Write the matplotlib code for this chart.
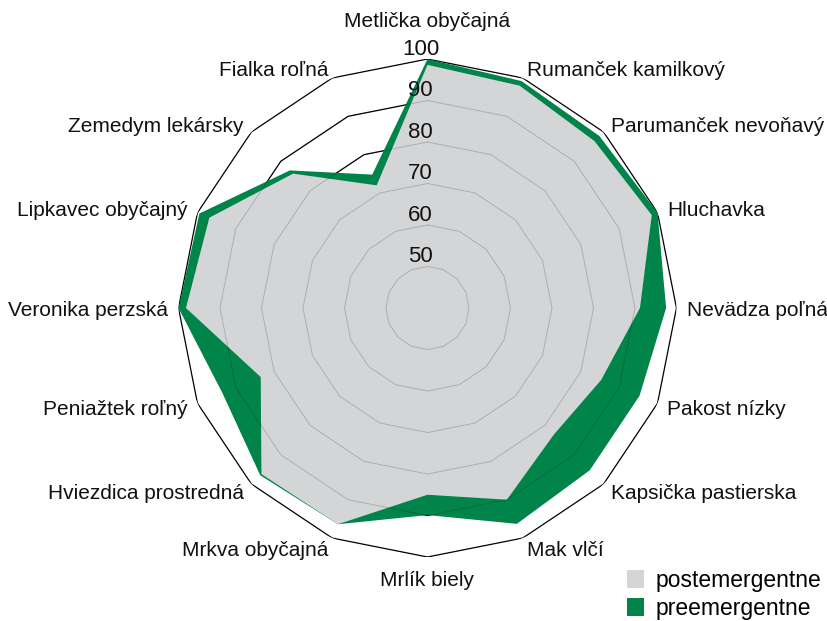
import numpy as np
import matplotlib
matplotlib.use("Agg")
import matplotlib.pyplot as plt
from matplotlib.patches import Patch
import matplotlib.transforms as mtransforms

plt.rcParams['font.family'] = ['Liberation Sans', 'DejaVu Sans']

categories = [
    "Metlička obyčajná", "Rumanček kamilkový", "Parumanček nevoňavý", "Hluchavka",
    "Nevädza poľná", "Pakost nízky", "Kapsička pastierska", "Mak vlčí",
    "Mrlík biely", "Mrkva obyčajná", "Hviezdica prostredná", "Peniažtek roľný",
    "Veronika perzská", "Lipkavec obyčajný", "Zemedym lekársky", "Fialka roľná",
]
preemergentne = [100, 99.2, 98.6, 100, 97.5, 95.3, 95.3, 96.3,
                 89.9, 96.4, 97.0, 93.5, 100, 99.5, 86.9, 74.8]
postemergentne = [98.6, 98.0, 96.9, 98.5, 91.2, 85.3, 83.1, 90.0,
                  85.0, 96.4, 96.6, 83.5, 98.2, 96.9, 85.8, 72.0]
grid_levels = [50, 60, 70, 80, 90, 100]
series_names = ["postemergentne", "preemergentne"]

GREEN = "#00844a"
GRAY = "#d4d5d7"
TXT = "#111111"

n = len(categories)
theta = np.linspace(0, 2 * np.pi, n, endpoint=False)
theta_c = np.append(theta, theta[0])

fig = plt.figure(figsize=(8.28, 6.21), dpi=100)
ax = fig.add_axes([0.2156, 0.103, 0.6014, 0.802], projection='polar')
ax.set_theta_zero_location('N')
ax.set_theta_direction(-1)
ax.set_ylim(40, 100)
ax.grid(False)
ax.spines['polar'].set_visible(False)
ax.set_xticks([])
ax.set_yticks([])
ax.patch.set_alpha(0)

# polygon grid (underneath)
for lv in grid_levels:
    ax.plot(theta_c, [lv] * (n + 1), color='black', lw=0.9, zorder=1)

pre_c = preemergentne + preemergentne[:1]
post_c = postemergentne + postemergentne[:1]
ax.fill(theta_c, pre_c, color=GREEN, lw=0, zorder=2)
ax.fill(theta_c, post_c, color=GRAY, lw=0, zorder=3)

# faint grid over fills
for lv in grid_levels[:-1]:
    ax.plot(theta_c, [lv] * (n + 1), color='black', lw=0.7, alpha=0.18, zorder=4)

# radial tick labels
off = mtransforms.offset_copy(ax.transData, fig=fig, x=-7, y=0, units='dots')
for lv in grid_levels:
    ax.text(0, lv + 2.4, str(lv), transform=off, ha='center', va='center',
            fontsize=16, color=TXT, zorder=6)

# category labels
lab_tr = mtransforms.offset_copy(ax.transData, fig=fig, x=0, y=-2, units='dots')
for ang, lab in zip(theta, categories):
    deg = np.degrees(ang)
    if np.isclose(deg, 0):
        ax.text(ang, 107.7, lab, ha='center', va='baseline', fontsize=15, color=TXT)
    elif np.isclose(deg, 180):
        ax.text(ang, 103.4, lab, ha='center', va='top', fontsize=15, color=TXT)
    elif deg < 180:
        ax.text(ang, 102.6, lab, ha='left', va='center', fontsize=15, color=TXT,
                transform=lab_tr)
    else:
        ax.text(ang, 102.6, lab, ha='right', va='center', fontsize=15, color=TXT,
                transform=lab_tr)

handles = [Patch(facecolor=GRAY, edgecolor='none'), Patch(facecolor=GREEN, edgecolor='none')]
fig.legend(handles, series_names, loc='upper left', bbox_to_anchor=(627 / 828, 1 - 569 / 621),
           frameon=False, fontsize=16.5, handlelength=0.75, handleheight=0.8,
           handletextpad=0.48, labelspacing=0.22, borderpad=0, borderaxespad=0)

fig.savefig("out.png", dpi=100)
